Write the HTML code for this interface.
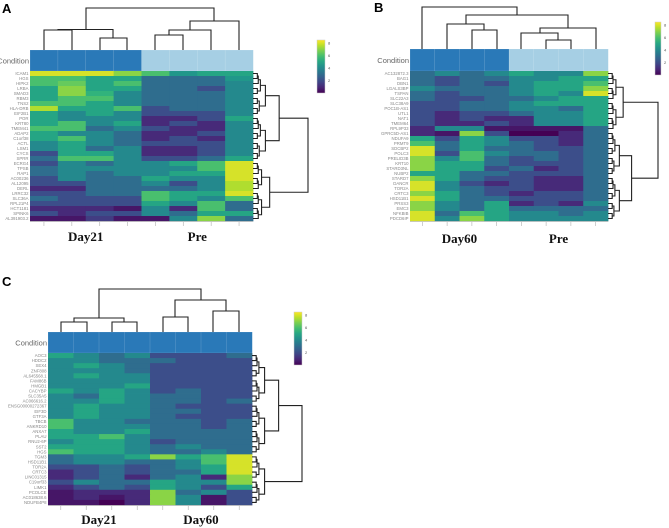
<!DOCTYPE html>
<html><head><meta charset="utf-8"><style>
html,body{margin:0;padding:0;background:#fff;}
svg{display:block;}
</style></head><body>
<svg id="fig" width="669" height="528" xmlns="http://www.w3.org/2000/svg">
<text x="2" y="13" font-family="Liberation Sans, sans-serif" font-weight="bold" font-size="13">A</text>
<text x="374" y="12" font-family="Liberation Sans, sans-serif" font-weight="bold" font-size="13">B</text>
<text x="2" y="286" font-family="Liberation Sans, sans-serif" font-weight="bold" font-size="13">C</text>
</svg>
<script>
const panelARows=["ICAM1","HGS","HIPK2","LRBA","SMAD3","RBM3","TNS2","HLA-DRB","EIF2B1","POR","KRT80","TMEM41","ADAP2","C1orf38","ACTL","LSM1","CYCS","SPRR","ECRG4","TPSB","RAP1","AC00236","AL12095","DERL","LRRC32","SLC36A","RPL21P4","HCT1181","SPINK6","AL391903.2"];
const panelAValues=[
[8,8,8,7,6,4.5,5,5],[6,6,5,5,3,3,3,4.5],[6,6.5,5,6,3,3,3,4],[5,7,5,5,3,3,2,4],[5,7,5.5,4,3,3,3,4],
[5,6,6,4,3,3,3,4],[6,6,5,4,3,3,3,4],[7.5,5,5,6,2,3,3,4],[5,4,5,4,2,2,2,4],[5,4,4,4,1,1,2,5],
[5,6,4,5,1,2,1,4],[6,6,3,4,2,1,1,4],[5,4,4,3,1,1,2,4],[5,6,4,3,1,2,1,4],[4,5,4,3,2,2,2,4],
[4,5,3,4,1,1,2,4],[2,5,5,4,1,1,2,4],[3,6,6,4,2,2,3,5],[2,4,3,4,4,5,6,8],[3,4,4,4,4,4,6,8],
[3,4,3,4,4,5,5,8],[2,4,3,3,5,4,4,8],[2,2,3,3,4,2,4,7.5],[1,1,3,3,3,3,4,7.5],[2,2,3,3,6,5,5,8],
[3,2,2,2,6,5,4,6],[2,2,2,2,5,4,6,3],[1,1,1,0.5,4,1,6,3],[2,1,2,2,4,3,5,5],[0.5,0.5,1.5,0.5,0.5,4,7,3]];
const panelAGroups=["Day21","Day21","Day21","Day21","Pre","Pre","Pre","Pre"];

const panelBRows=["AC132872.3","BAG1","DBN1","LGALS3BP","TSPAN","SLC22A3","SLC38A9","POC1B-AS1","UTL1","NAT1","TMEM64","RPL9P33","GPRC5D-AS1","NDUFA9","PRMT9","SDCBP2","POLC3","PRELID3B","KRT10","STARD3NL","NUBP2","STARD7","DANCR","TOR2A","CRTC3","HSD11B1","PRSS3","EMC3","NFKBIB","PDCD6IP"];
const panelBValues=[
[3,4,3,4,5,4,4,7],[3,2,3,3,4,4,5,5],[3,2,3,2,4,5,5,6],[4,3,3,3,4,5,5,7],[3,2,3,3,4,5,4,8],
[3,2,2,3,3,4,5,5],[2,2,3,3,4,5,5,5],[2,2,3,3,4,4,3,5],[2,1,2,2,3,4,4,5],[2,1,2,1,1,4,4,5],
[2,1,1,2,1,4,4,5],[1,4,4,0.5,0.5,0.5,0.5,3],[1,0.5,7,2,0,0,1,3],[5,2,5,4,2,2,1,3],[6,3,5,4,3,2,1,3],
[8,3,5,3,3,2,2,3],[8,2,6,4,3,3,2,3],[7,4,6,3,2,3,2,3],[7,5,5,3,2,2,2,3],[7,5,5,2,3,1,2,3],
[5,5,3,3,2,2,2,3],[7,5,3,2,2,1,1,3],[8,4,2,1,2,1,1,3],[8,4,3,2,2,1,1,3],[7,5,3,2,1,2,2,3],
[8,5,3,3,2,2,2,3],[7,4,3,5,1,2,1,4],[7,4,3,5,3,3,3,3],[8,3,6,5,4,4,3,4],[8,4,7,5,4,4,4,4]];
const panelBGroups=["Day60","Day60","Day60","Day60","Pre","Pre","Pre","Pre"];

const panelCRows=["AOC3","HDDC2","SEX4","ZNF808","AL645568.1","FAM86B","HMGB1","CACYBP","SLC35A5","AC066616.2","ENSG00000272367","EIF3D","GTF3A","TBCB","ANKRD10","ANXA7","PLAU","RNU2-6P","SST2","HGS","TGM3","HSD11B1","TOR2A","CRTC3","LINC01315","C19orf33","LIMK1","PCOLCE","AC018638.6","NDUFB4P8"];
const panelCValues=[
[5,4,3,4,2,2,2,3],[4,4,3,3,3,2,2,2],[4,5,4,3,2,2,2,2],[4,4,4,3,2,2,2,2],[4,5,4,4,2,2,2,2],
[4,4,4,4,2,2,2,2],[4,4,4,5,2,2,2,2],[5,4,5,4,2,3,2,2],[4,3,5,4,3,3,2,2],[4,4,5,4,3,3,2,3],
[4,5,4,4,3,2,2,2],[4,5,4,4,3,3,2,2],[4,5,4,4,3,2,2,2],[6,4,4,3,3,3,2,3],[6,4,4,4,3,3,2,3],
[5,4,4,5,3,3,3,3],[5,5,6,4,3,3,3,3],[4,5,5,4,2,3,3,3],[5,5,5,4,3,4,3,3],[6,5,5,4,3,3,4,3],
[3,4,4,5,7,5,6,8],[3,4,4,3,3,4,6,8],[2,2,3,2,3,4,5,8],[1,2,3,2,3,3,5,8],[1,2,3,1,3,4,1,7],
[2,4,3,3,5,4,4,7],[1,2,3,2,5,4,2,5],[0.5,1,1,1,7,3,4,2],[0.5,1,0.5,1,7,4,0.5,2],[0.5,0.5,0,1,7,4,0.5,2]];
const panelCGroups=["Day21","Day21","Day21","Day21","Day60","Day60","Day60","Day60"];

const colorTicks=[2,4,6,8];

const NS="http://www.w3.org/2000/svg";
const svg=document.getElementById('fig');
function mk(tag,attrs,parent){const e=document.createElementNS(NS,tag);for(const k in attrs)e.setAttribute(k,attrs[k]);(parent||svg).appendChild(e);return e;}
const VIR=[[68,1,84],[72,40,120],[62,74,137],[49,104,142],[38,130,142],[31,158,137],[53,183,121],[109,205,89],[180,222,44],[253,231,37]];
function viridis(t){t=Math.max(0,Math.min(1,t));const p=t*(VIR.length-1),i=Math.min(VIR.length-2,Math.floor(p)),f=p-i;const c=VIR[i].map((v,k)=>Math.round(v+(VIR[i+1][k]-v)*f));return `rgb(${c[0]},${c[1]},${c[2]})`;}
const VMIN=0,VMAX=8.5;
const groupColor={"Day21":"#2a79b8","Day60":"#2a79b8","Pre":"#a6cfe4"};

function panel(cfg,rows,values,groups){
  const g=mk('g',{});
  
  
  const nC=groups.length,nR=rows.length;
  const xs=c=>cfg.x0+(cfg.x1-cfg.x0)*c/nC;
  const ys=r=>cfg.y0+(cfg.y1-cfg.y0)*r/nR;
  const cw=(cfg.x1-cfg.x0)/nC,rh=(cfg.y1-cfg.y0)/nR;
  groups.forEach((gr,c)=>{
    const r=mk('rect',{x:xs(c),y:cfg.yc,width:cw+0.3,height:cfg.y0-cfg.yc,fill:groupColor[gr],stroke:'rgba(255,255,255,0.25)','stroke-width':0.5},g);
    
    
  });
  const cl=mk('text',{x:cfg.x0-1,y:(cfg.yc+cfg.y0)/2+3,'text-anchor':'end','font-family':'Liberation Sans, sans-serif','font-size':7.5,fill:'#666'},g);
  cl.textContent='Condition';
  
  
  values.forEach((row,r)=>row.forEach((v,c)=>{
    const e=mk('rect',{x:xs(c),y:ys(r),width:cw+0.4,height:rh+0.4,fill:viridis((v-VMIN)/(VMAX-VMIN))},g);
    
    
  }));
  rows.forEach((lab,r)=>{
    const t=mk('text',{x:cfg.x0-1.5,y:ys(r)+rh*0.8,'text-anchor':'end','font-family':'Liberation Sans, sans-serif','font-size':4.3,fill:'#888'},g);
    t.textContent=lab;
    
    
  });
  const ax=mk('line',{x1:cfg.x0,x2:cfg.x1,y1:cfg.y1+0.5,y2:cfg.y1+0.5,stroke:'#bbb','stroke-width':0.8},g);
  
  
  for(let c=0;c<nC;c++){
    const tk=mk('line',{x1:xs(c+0.5),x2:xs(c+0.5),y1:cfg.y1+1,y2:cfg.y1+5,stroke:'#bbb','stroke-width':0.7},g);
    
    
  }
  const uniq=[...new Set(groups)];
  uniq.forEach(u=>{
    const idx=groups.map((gg,i)=>gg===u?i:-1).filter(i=>i>=0);
    const cx=xs((idx[0]+idx[idx.length-1]+1)/2);
    const t=mk('text',{x:cx,y:cfg.labelY,'text-anchor':'middle','font-family':'Liberation Serif, serif','font-weight':'bold','font-size':13,fill:'#111'},g);
    t.textContent=u;
    
    
  });
  cfg.topLinks.forEach(L=>{
    const p=mk('path',{d:`M${L[0]},${L[3]}V${L[2]}H${L[1]}V${L[4]}`,fill:'none',stroke:'#222','stroke-width':1.1},g);
    
    
  });
  const dx0=cfg.x1,dx1=cfg.dendX;
  function build(lo,hi){
    if(lo===hi)return {y:ys(lo+0.5),h:dx0,n:1};
    let mid=Math.floor((lo+hi)/2);
    if(lo===0&&hi===nR-1)mid=cfg.split;
    const a=build(lo,mid),b=build(mid+1,hi);
    const n=hi-lo+1;
    const h=(lo===0&&hi===nR-1)?dx1:dx0+(dx1-dx0-10)*Math.pow(n/nR,1.3)+3;
    const p=mk('path',{d:`M${a.h},${a.y}H${h}V${b.y}H${b.h}`,fill:'none',stroke:'#222','stroke-width':1.1},g);
    
    
    return {y:(a.y+b.y)/2,h:h,n:n};
  }
  build(0,nR-1);
  const gid='grad'+cfg.name;
  const defs=mk('defs',{},g);
  const lg=mk('linearGradient',{id:gid,x1:0,y1:1,x2:0,y2:0},defs);
  for(let i=0;i<=10;i++)mk('stop',{offset:i/10,'stop-color':viridis(i/10)},lg);
  const cb=mk('rect',{x:cfg.cb[0],y:cfg.cb[1],width:cfg.cb[2],height:cfg.cb[3],fill:`url(#${gid})`,stroke:'#ccc','stroke-width':0.5},g);
  
  
  colorTicks.forEach(v=>{
    const yy=cfg.cb[1]+cfg.cb[3]*(1-(v-VMIN)/(VMAX-VMIN));
    const t=mk('text',{x:cfg.cb[0]+cfg.cb[2]+3,y:yy+1.5,'font-family':'Liberation Sans, sans-serif','font-size':4,fill:'#555'},g);
    t.textContent=v;
    
    
  });
}
panel({name:'panel-a',x0:30,x1:253,yc:50,y0:71,y1:221,labelY:241,dendX:308,split:17,cb:[317,40,8,53],
  topLinks:[[44,72,30,50,50],[100,127,38,50,50],[58,113,29.5,30,38],[155,183,35,50,50],[169,211,30,35,50],[190,239,21,30,50],[86,214,8,29.5,21]]},panelARows,panelAValues,panelAGroups);
panel({name:'panel-b',x0:410,x1:608,yc:49,y0:71,y1:221,labelY:243,dendX:658,split:11,cb:[655,22,6,53],
  topLinks:[[472,497,30,49,49],[447,484,24,49,30],[546,571,40,49,49],[521,558,33,49,40],[540,596,28,33,49],[466,568,15,24,28],[422,517,7,49,15]]},panelBRows,panelBValues,panelBGroups);
panel({name:'panel-c',x0:48,x1:252,yc:332,y0:353,y1:505,labelY:524,dendX:302,split:19,cb:[294,312,8,53],
  topLinks:[[61,87,322,332,332],[112,137,322,332,332],[74,124,318,322,322],[163,188,317,332,332],[213,239,311,332,332],[175,226,300,317,311],[99,201,289,318,300]]},panelCRows,panelCValues,panelCGroups);
</script>
</body></html>
